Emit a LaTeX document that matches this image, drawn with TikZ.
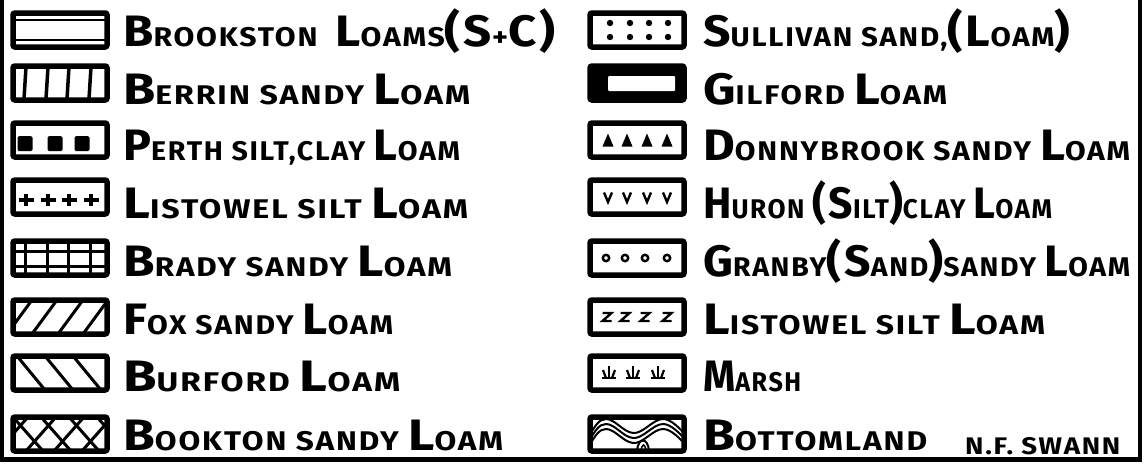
\documentclass[tikz,border=0pt]{standalone}
\usepackage{fontspec}
\setmainfont{Fira Sans}[LetterSpace=6]
\usepackage{graphicx}
\newsavebox\lblbox
\newlength\lblw
\newcommand\fitto[2]{\sbox\lblbox{#2}\setlength\lblw{\wd\lblbox}\pgfmathsetmacro\fitx{#1/\lblw}\scalebox{\fitx}[1]{\usebox\lblbox}}
\newcommand\C[1]{{\fontsize{44}{44}\selectfont #1}}
\tikzset{
  swatch/.style={draw, line width=5.5pt, minimum width=94pt, minimum height=34pt, inner sep=0pt, rounded corners=2pt},
  lbl/.style={anchor=base west, inner sep=0pt, font=\bfseries\fontsize{27}{27}\selectfont},
  sig/.style={anchor=base west, inner sep=0pt, font=\bfseries\fontsize{24}{24}\selectfont},
  hatch/.style={line width=3pt},
  thinl/.style={line width=2.4pt},
  frame/.style={line width=4.5pt}
}
\begin{document}
\begin{tikzpicture}[x=1pt,y=-1pt]
\useasboundingbox (0,0) rectangle (1145,463);
% border
\coordinate (b1) at (1.5,0);
\coordinate (b2) at (1.5,459.5);
\coordinate (b3) at (1140,459.5);
\coordinate (b4) at (1140,0);
\draw[frame] (b1) -- (b2) -- (b3) -- (b4);

% ---------------- left column swatches
\node[swatch] (l1) at (60,30) {};
\node[swatch] (l2) at (60,83) {};
\node[swatch] (l3) at (60,140) {};
\node[swatch] (l4) at (60,197) {};
\node[swatch] (l5) at (60,258) {};
\node[swatch] (l6) at (60,317) {};
\node[swatch] (l7) at (60,373) {};
\node[swatch] (l8) at (60,434) {};
% patterns
\begin{scope}[shift={(l1.center)}]
  \draw[thinl] (-46,-10) -- (46,-10);
  \draw[thinl] (-46,10) -- (46,10);
\end{scope}
\begin{scope}[shift={(l2.center)}]
  \foreach \x in {-35,-13,8,30} \draw[line width=3.5pt] (\x+1,-16) -- (\x-1,16);
\end{scope}
\begin{scope}[shift={(l3.center)}]
  \foreach \x in {-35,-5,22} \fill[rounded corners=1.5pt] (\x-7.5,-4) rectangle (\x+7.5,11);
\end{scope}
\begin{scope}[shift={(l4.center)}]
  \foreach \x in {-34,-12,9,31} {
    \draw[line width=3.2pt] (\x-7.5,3) -- (\x+7.5,3);
    \draw[line width=3.2pt] (\x,-3) -- (\x,9);
  }
\end{scope}
\begin{scope}[shift={(l5.center)}]
  \foreach \x in {-35,-13,8,30} \draw[hatch] (\x,-16) -- (\x,16);
  \draw[hatch] (-47,-7) -- (47,-7);
  \draw[hatch] (-47,8) -- (47,8);
\end{scope}
\begin{scope}[shift={(l6.center)}]
  \clip (-47,-16) rectangle (47,16);
  \foreach \b in {-53,-28,-2,23} \draw[hatch] (\b,17) -- (\b+25,-17);
\end{scope}
\begin{scope}[shift={(l7.center)}]
  \clip (-47,-16) rectangle (47,16);
  \foreach \t in {-72,-43,-15,13} \draw[hatch] (\t,-17) -- (\t+28,17);
\end{scope}
\begin{scope}[shift={(l8.center)}]
  \clip (-47,-16) rectangle (47,16);
  \foreach \t in {-75,-47,-19,9,37} \draw[hatch] (\t,-17) -- (\t+30,17);
  \foreach \t in {-62,-34,-6,22,50} \draw[hatch] (\t,17) -- (\t+30,-17);
\end{scope}

% ---------------- right column swatches
\node[swatch] (r1) at (637,30) {};
\node[swatch, fill=black] (r2) at (637,83) {};
\node[swatch] (r3) at (637,140) {};
\node[swatch] (r4) at (637,197) {};
\node[swatch] (r5) at (637,258) {};
\node[swatch] (r6) at (637,317) {};
\node[swatch] (r7) at (637,373) {};
\node[swatch] (r8) at (637,434) {};
\begin{scope}[shift={(r1.center)}]
  \foreach \x in {-27,-7,12,31} {
    \fill (\x,-7) circle (3.2pt);
    \fill (\x,7) circle (3.2pt);
  }
\end{scope}
\begin{scope}[shift={(r2.center)}]
  \fill[white, rounded corners=1pt] (-29,-7) rectangle (38,8);
\end{scope}
\begin{scope}[shift={(r3.center)}]
  \foreach \x in {-29,-10,10,30} \fill (\x-5.5,6.5) -- (\x,-6.5) -- (\x+5.5,6.5) -- cycle;
\end{scope}
\begin{scope}[shift={(r4.center)}]
  \foreach \x in {-29,-10,10,30} \draw[thinl] (\x-4,-4.5) -- (\x,5) -- (\x+4,-4.5);
\end{scope}
\begin{scope}[shift={(r5.center)}]
  \foreach \x in {-31,-12,8,30} \draw[line width=2.4pt] (\x,0) circle (3.2pt);
\end{scope}
\begin{scope}[shift={(r6.center)}]
  \foreach \x in {-30,-12,8,30} \draw[thinl] (\x-4.5,-4) -- (\x+4.5,-4) -- (\x-4.5,4) -- (\x+4.5,4);
\end{scope}
\begin{scope}[shift={(r7.center)}]
  \foreach \x in {-28,-4,21} {
    \draw[line width=2.8pt] (\x-7,5) -- (\x+7,5);
    \draw[line width=2.2pt] (\x,5) -- (\x,-7);
    \draw[line width=2.2pt] (\x-3,5) -- (\x-6,-3);
    \draw[line width=2.2pt] (\x+3,5) -- (\x+6,-3);
  }
\end{scope}
\begin{scope}[shift={(r8.center)}]
  \clip (-47,-17) rectangle (47,17);
  \foreach \d in {0,5,10}
    \draw[line width=2pt] (-48,2+\d) .. controls (-42,-8+\d) and (-38,-15+\d) .. (-31,-15+\d)
      .. controls (-22,-15+\d) and (-14,-2+\d) .. (-4,-1+\d)
      .. controls (6,0+\d) and (16,-15+\d) .. (26,-15+\d)
      .. controls (34,-15+\d) and (42,-6+\d) .. (48,0+\d);
  \draw[line width=2pt] (0,17) .. controls (1,3) and (11,3) .. (12,17);
  \draw[line width=1.5pt] (4,17) .. controls (5,9) and (8,9) .. (9,17);
\end{scope}

% ---------------- labels left
\node[lbl] (t1) at (123,46) {\fitto{432}{\C{B}ROOKSTON\ \ \C{L}OAMS\C{(S}+\C{C)}}};
\node[lbl] (t2) at (123,104) {\fitto{347}{\C{B}ERRIN SANDY \C{L}OAM}};
\node[lbl] (t3) at (123,160) {\fitto{337}{\C{P}ERTH SILT,CLAY \C{L}OAM}};
\node[lbl] (t4) at (123,218) {\fitto{345}{\C{L}ISTOWEL SILT \C{L}OAM}};
\node[lbl] (t5) at (123,276) {\fitto{329}{\C{B}RADY SANDY \C{L}OAM}};
\node[lbl] (t6) at (123,334) {\fitto{270}{\C{F}OX SANDY \C{L}OAM}};
\node[lbl] (t7) at (123,391) {\fitto{277}{\C{B}URFORD \C{L}OAM}};
\node[lbl] (t8) at (123,450) {\fitto{380}{\C{B}OOKTON SANDY \C{L}OAM}};
% ---------------- labels right
\node[lbl] (u1) at (703,46) {\fitto{367}{\C{S}ULLIVAN SAND,\C{(L}OAM\C{)}}};
\node[lbl] (u2) at (703,104) {\fitto{244}{\C{G}ILFORD \C{L}OAM}};
\node[lbl] (u3) at (703,160) {\fitto{427}{\C{D}ONNYBROOK SANDY \C{L}OAM}};
\node[lbl] (u4) at (703,218) {\fitto{349}{\C{H}URON \C{(S}ILT\C{)}CLAY \C{L}OAM}};
\node[lbl] (u5) at (703,276) {\fitto{427}{\C{G}RANBY\C{(S}AND\C{)}SANDY \C{L}OAM}};
\node[lbl] (u6) at (703,334) {\fitto{342}{\C{L}ISTOWEL SILT \C{L}OAM}};
\node[lbl] (u7) at (703,391) {\fitto{98}{\C{M}ARSH}};
\node[lbl] (u8) at (703,450) {\fitto{224}{\C{B}OTTOMLAND}};
\node[sig] (sg) at (965,454) {\fitto{155}{N.F. SWANN}};
\end{tikzpicture}
\end{document}
